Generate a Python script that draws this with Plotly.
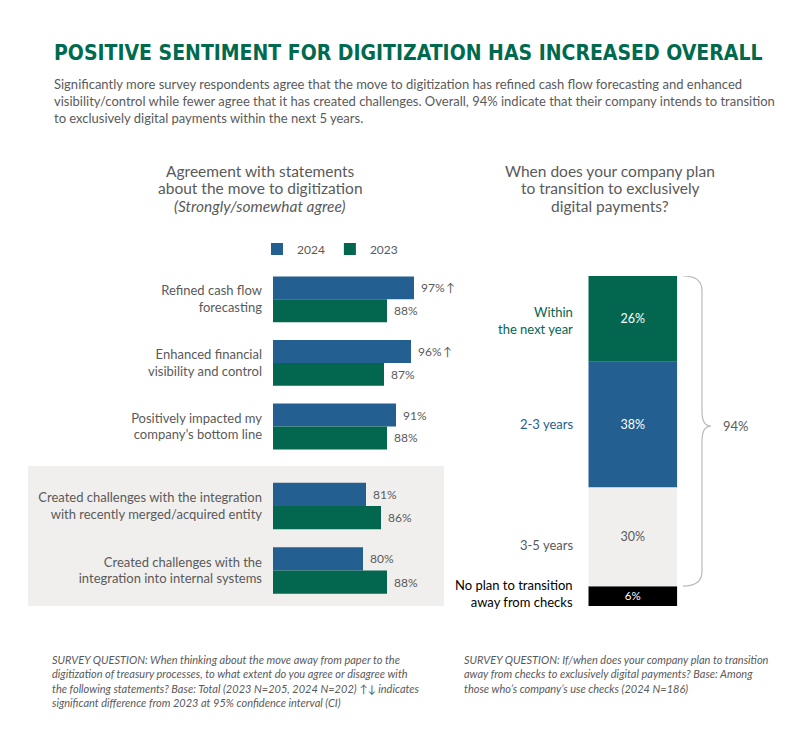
import plotly.graph_objects as go

W, H = 800, 747

# ---------------- data ----------------
statements_top = [
    "Refined cash flow<br>forecasting",
    "Enhanced financial<br>visibility and control",
    "Positively impacted my<br>company’s bottom line",
]
statements_bottom = [
    "Created challenges with the integration<br>with recently merged/acquired entity",
    "Created challenges with the<br>integration into internal systems",
]
vals_2024_top = [97, 96, 91]
vals_2023_top = [88, 87, 88]
vals_2024_bottom = [81, 80]
vals_2023_bottom = [86, 88]
sig_2024_top = ["↑", "↑", ""]
sig_2024_bottom = ["", ""]

timeline_labels = ["No plan to transition<br>away from checks", "3-5 years", "2-3 years", "Within<br>the next year"]
timeline_values = [6, 30, 38, 26]
plan_total_label = "94%"

left_title_lines = ["Agreement with statements", "about the move to digitization", "<i>(Strongly/somewhat agree)</i>"]
right_title_lines = ["When does your company plan", "to transition to exclusively", "digital payments?"]

# ---------------- style ----------------
BLUE = "#245F91"
GREEN = "#03664F"
LIGHT = "#F0EFED"
BLACK = "#000000"
TXT = "#5A5A5A"
TITLE_GREEN = "#006A4E"
FONT = "Lato, 'Open Sans', sans-serif"
TITLE_FONT = "'DejaVu Sans Condensed', 'DejaVu Sans', sans-serif"

seg_colors = [BLACK, LIGHT, BLUE, GREEN]
seg_text_colors = ["#FFFFFF", TXT, "#FFFFFF", "#FFFFFF"]
label_colors = [BLACK, TXT, BLUE, GREEN]
label_yshift = [3, -8, 0, -2]


def px(x):
    return x / W


def py(y):
    return 1 - y / H


def fmt(v, s):
    t = "\u2004" + f"{v}%"
    if s:
        t += "\u2009" + s
    return t


fig = go.Figure()

# left chart, top panel
fig.add_bar(y=statements_top, x=vals_2024_top, orientation="h", name="2024",
            marker=dict(color=BLUE, line=dict(width=0)),
            text=[fmt(v, s) for v, s in zip(vals_2024_top, sig_2024_top)],
            textposition="outside", cliponaxis=False,
            textfont=dict(color=TXT, size=12, family=FONT),
            xaxis="x", yaxis="y", legendgroup="2024")
fig.add_bar(y=statements_top, x=vals_2023_top, orientation="h", name="2023",
            marker=dict(color=GREEN, line=dict(width=0)),
            text=[fmt(v, "") for v in vals_2023_top],
            textposition="outside", cliponaxis=False,
            textfont=dict(color=TXT, size=12, family=FONT),
            xaxis="x", yaxis="y", legendgroup="2023")
# left chart, bottom (shaded) panel
fig.add_bar(y=statements_bottom, x=vals_2024_bottom, orientation="h", name="2024",
            marker=dict(color=BLUE, line=dict(width=0)),
            text=[fmt(v, s) for v, s in zip(vals_2024_bottom, sig_2024_bottom)],
            textposition="outside", cliponaxis=False,
            textfont=dict(color=TXT, size=12, family=FONT),
            xaxis="x2", yaxis="y2", legendgroup="2024", showlegend=False)
fig.add_bar(y=statements_bottom, x=vals_2023_bottom, orientation="h", name="2023",
            marker=dict(color=GREEN, line=dict(width=0)),
            text=[fmt(v, "") for v in vals_2023_bottom],
            textposition="outside", cliponaxis=False,
            textfont=dict(color=TXT, size=12, family=FONT),
            xaxis="x2", yaxis="y2", legendgroup="2023", showlegend=False)

# right chart: stacked column
cum = 0
bases = []
for lab, v, c, tc in zip(timeline_labels, timeline_values, seg_colors, seg_text_colors):
    bases.append(cum)
    fig.add_bar(x=["plan"], y=[v], base=[cum], width=[1], offset=[-0.5], offsetgroup="plan",
                marker=dict(color=c, line=dict(width=0)),
                text=[f"{v}%"], textposition="inside", insidetextanchor="middle",
                textfont=dict(color=tc, size=12.5, family=FONT),
                xaxis="x3", yaxis="y3", showlegend=False, name=lab.replace("<br>", " "))
    cum += v
total = cum

annotations = []
for lab, v, b, lc, ys in zip(timeline_labels, timeline_values, bases, label_colors, label_yshift):
    annotations.append(dict(x=px(575), xref="paper", y=b + v / 2, yref="y3", yshift=ys,
                            text=lab, showarrow=False, xanchor="right", yanchor="middle",
                            align="right", font=dict(color=lc, size=13, family=FONT)))

# brace spanning all segments that plan to transition
b_bot = timeline_values[0]
b_top = total
b_mid = (b_bot + b_top) / 2 + 1.5
r = 4.5
x0, x1, xt = px(683), px(702), px(711)
brace = (f"M {x0},{b_top} Q {x1},{b_top} {x1},{b_top - r} L {x1},{b_mid + r} "
         f"Q {x1},{b_mid} {xt},{b_mid} Q {x1},{b_mid} {x1},{b_mid - r} "
         f"L {x1},{b_bot + r} Q {x1},{b_bot} {x0},{b_bot}")
shapes = [
    dict(type="rect", xref="paper", yref="paper", x0=px(28), x1=px(444), y0=py(606), y1=py(466),
         fillcolor=LIGHT, line=dict(width=0), layer="below"),
    dict(type="path", xref="paper", yref="y3", path=brace, line=dict(color="#BBBBBB", width=1.2)),
]
annotations.append(dict(x=px(721), xref="paper", y=b_mid, yref="y3", text=plan_total_label,
                        showarrow=False, xanchor="left", yanchor="middle",
                        font=dict(color=TXT, size=13, family=FONT)))

# titles and texts
annotations.append(dict(x=px(52), y=py(53), xref="paper", yref="paper", xanchor="left", yanchor="middle",
                        text="<b>POSITIVE SENTIMENT FOR DIGITIZATION HAS INCREASED OVERALL</b>",
                        showarrow=False, font=dict(color=TITLE_GREEN, size=21, family=TITLE_FONT)))
annotations.append(dict(x=px(52), y=py(74), xref="paper", yref="paper", xanchor="left", yanchor="top",
                        align="left", showarrow=False,
                        text=("Significantly more survey respondents agree that the move to digitization has refined cash flow forecasting and enhanced<br>"
                              "visibility/control while fewer agree that it has created challenges. Overall, 94% indicate that their company intends to transition<br>"
                              "to exclusively digital payments within the next 5 years."),
                        font=dict(color=TXT, size=13, family=FONT)))
for i, line in enumerate(left_title_lines):
    annotations.append(dict(x=px(260), y=py(171 + 17.3 * i), xref="paper", yref="paper",
                            xanchor="center", yanchor="middle", showarrow=False, text=line,
                            font=dict(color=TXT, size=15.5, family=FONT)))
for i, line in enumerate(right_title_lines):
    annotations.append(dict(x=px(610), y=py(171 + 17.3 * i), xref="paper", yref="paper",
                            xanchor="center", yanchor="middle", showarrow=False, text=line,
                            font=dict(color=TXT, size=15.5, family=FONT)))
annotations.append(dict(x=px(50), y=py(651), xref="paper", yref="paper", xanchor="left", yanchor="top",
                        align="left", showarrow=False,
                        text=("<i>SURVEY QUESTION: When thinking about the move away from paper to the<br>"
                              "digitization of treasury processes, to what extent do you agree or disagree with<br>"
                              "the following statements? Base: Total (2023 N=205, 2024 N=202) ↑↓ indicates<br>"
                              "significant difference from 2023 at 95% confidence interval (CI)</i>"),
                        font=dict(color=TXT, size=11, family=FONT)))
annotations.append(dict(x=px(462), y=py(651), xref="paper", yref="paper", xanchor="left", yanchor="top",
                        align="left", showarrow=False,
                        text=("<i>SURVEY QUESTION: If/when does your company plan to transition<br>"
                              "away from checks to exclusively digital payments? Base: Among<br>"
                              "those who’s company’s use checks (2024 N=186)</i>"),
                        font=dict(color=TXT, size=11, family=FONT)))

x_rng = [50, 50 + (440 - 273) / 3]
hidden_x = dict(range=x_rng, showgrid=False, zeroline=False, showticklabels=False, showline=False, fixedrange=True)
ycat = dict(autorange="reversed", showgrid=False, zeroline=False, showline=False, ticks="",
            ticklabelstandoff=10, tickfont=dict(color=TXT, size=13, family=FONT))

fig.update_layout(
    width=W, height=H, margin=dict(l=0, r=0, t=0, b=0),
    paper_bgcolor="white", plot_bgcolor="rgba(0,0,0,0)",
    barmode="group", bargap=0.28, bargroupgap=0,
    font=dict(family=FONT, color=TXT),
    showlegend=True,
    legend=dict(orientation="h", x=px(257), xanchor="left", y=py(249), yanchor="middle",
                font=dict(color=TXT, size=12, family=FONT), bgcolor="rgba(0,0,0,0)",
                traceorder="normal", itemclick=False, itemdoubleclick=False),
    xaxis=dict(domain=[px(273), px(440)], anchor="y", **hidden_x),
    yaxis=dict(domain=[py(458.3), py(267.5)], anchor="x", **ycat),
    xaxis2=dict(domain=[px(273), px(440)], anchor="y2", **hidden_x),
    yaxis2=dict(domain=[py(602.75), py(473.75)], anchor="x2", **ycat),
    xaxis3=dict(domain=[px(588.3), px(677.3)], anchor="y3", range=[-0.5, 0.5], visible=False),
    yaxis3=dict(domain=[py(606), py(276)], anchor="x3", range=[0, 100], visible=False),
    shapes=shapes,
    annotations=annotations,
)

fig.write_html("out.html", config={"displayModeBar": False},
               post_script="document.body.style.margin='0';document.body.style.overflow='hidden';")
